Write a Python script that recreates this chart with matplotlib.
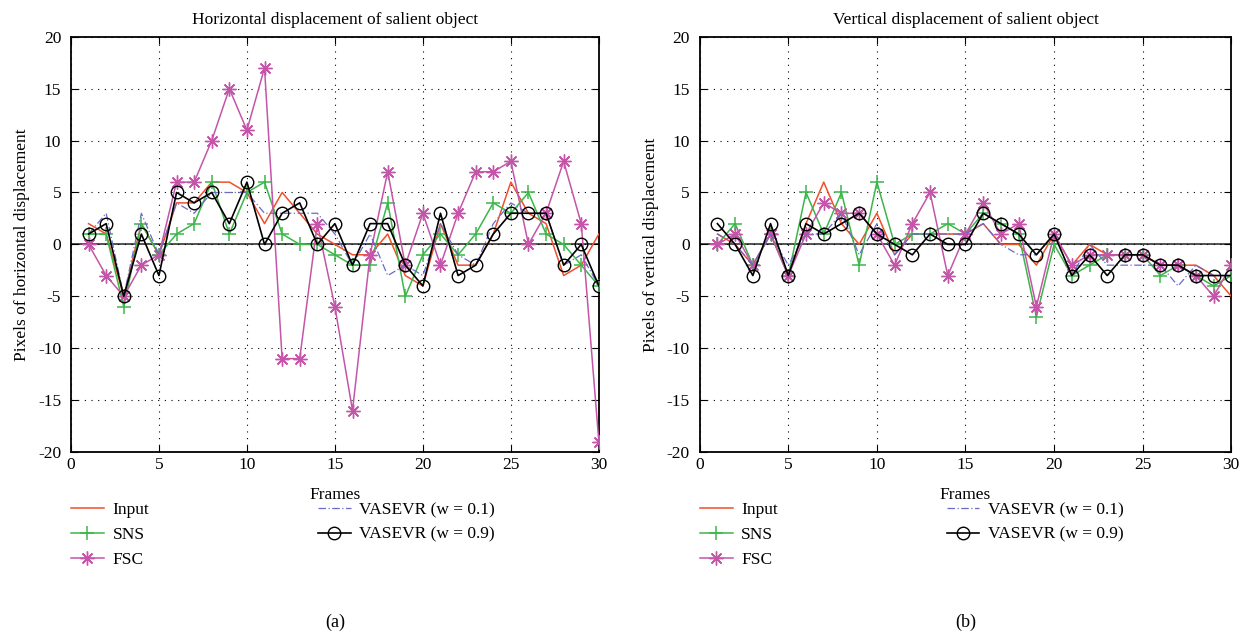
import matplotlib.pyplot as plt
import numpy as np

plt.rcParams["font.family"] = ["Liberation Serif", "DejaVu Serif"]
plt.rcParams["axes.unicode_minus"] = False

frames = np.arange(1, 31)

# (a) horizontal displacement
h_input = [2, 1, -5, 2, -1, 4, 4, 6, 6, 5, 2, 5, 3, 1, 0, -1, -1, 1, -3, -4,
           2, -2, -2, 1, 6, 3, 2, -3, -2, 1]
h_sns = [1, 1, -6, 2, -1, 1, 2, 6, 1, 5, 6, 1, 0, 0, -1, -2, -2, 4, -5, -1,
         1, -1, 1, 4, 3, 5, 1, 0, -2, -4]
h_fsc = [0, -3, -5, -2, -1, 6, 6, 10, 15, 11, 17, -11, -11, 2, -6, -16, -1, 7, -2, 3,
         -2, 3, 7, 7, 8, 0, 3, 8, 2, -19]
h_v01 = [1, 3, -5, 3, -1, 4, 3, 5, 5, 5, 3, 3, 3, 3, 1, -2, 1, -3, -2, -3,
         2, -1, -2, 2, 4, 3, 3, -2, -1, -4]
h_v09 = [1, 2, -5, 1, -3, 5, 4, 5, 2, 6, 0, 3, 4, 0, 2, -2, 2, 2, -2, -4,
         3, -3, -2, 1, 3, 3, 3, -2, 0, -4]

# (b) vertical displacement
v_input = [1, 0, -2, 1, -3, 2, 6, 2, 0, 3, -1, 1, 1, 1, 1, 2, 0, 0, -2, 1,
           -2, 0, -1, -1, -1, -2, -2, -2, -3, -5]
v_sns = [0, 2, -2, 1, -3, 5, 1, 5, -2, 6, 0, 1, 1, 2, 1, 3, 2, 1, -7, 0,
         -3, -2, -1, -1, -1, -3, -2, -3, -4, -3]
v_fsc = [0, 1, -2, 1, -3, 1, 4, 3, 3, 1, -2, 2, 5, -3, 1, 4, 1, 2, -6, 1,
         -2, -1, -1, -1, -1, -2, -2, -3, -5, -2]
v_v01 = [1, 0, -2, 1, -2, 1, 1, 3, -1, 2, -1, 1, 1, 1, 1, 2, 0, -1, -1, 1,
         -3, 0, -2, -2, -2, -2, -4, -2, -3, -3]
v_v09 = [2, 0, -3, 2, -3, 2, 1, 2, 3, 1, 0, -1, 1, 0, 0, 3, 2, 1, -1, 1,
         -3, -1, -3, -1, -1, -2, -2, -3, -3, -3]

labels = ["Input", "SNS", "FSC", "VASEVR (w = 0.1)", "VASEVR (w = 0.9)"]
titles = ["Horizontal displacement of salient object", "Vertical displacement of salient object"]
ylabels = ["Pixels of horizontal displacement", "Pixels of vertical displacement"]
panels = ["(a)", "(b)"]

c_red = "#f0502a"
c_green = "#3cb64a"
c_mag = "#c455a8"
c_blue = "#6a6ac8"

fig = plt.figure(figsize=(12.45, 6.34), dpi=100)
ax1 = fig.add_axes([0.057, 0.287, 0.424, 0.655])
ax2 = fig.add_axes([0.562, 0.287, 0.427, 0.655])

datasets = [(h_input, h_sns, h_fsc, h_v01, h_v09), (v_input, v_sns, v_fsc, v_v01, v_v09)]

for i, (ax, data) in enumerate(zip([ax1, ax2], datasets)):
    d_in, d_sns, d_fsc, d_v01, d_v09 = data
    ax.axhline(0, color="#333333", lw=1.2, zorder=1)
    ax.plot(frames, d_in, color=c_red, lw=1.1, label=labels[0], zorder=3)
    ax.plot(frames, d_sns, color=c_green, lw=1.1, marker="+", ms=10, mew=1.1,
            label=labels[1], zorder=3)
    ax.plot(frames, d_fsc, color=c_mag, lw=1.1, marker=(8, 2, 0), ms=10, mew=1.0,
            label=labels[2], zorder=3)
    ax.plot(frames, d_v01, color=c_blue, lw=0.9, ls=(0, (6, 2, 1, 2)),
            label=labels[3], zorder=3)
    ax.plot(frames, d_v09, color="black", lw=1.2, marker="o", ms=9, mfc="none",
            mew=1.0, label=labels[4], zorder=4)

    ax.set_xlim(0, 30)
    ax.set_ylim(-20, 20)
    ax.set_xticks(range(0, 31, 5))
    ax.set_yticks(range(-20, 21, 5))
    ax.grid(True, color="black", ls=(0, (1, 5)), lw=0.8)
    ax.tick_params(direction="in", top=True, right=True, labelsize=12.5, length=5)
    ax.tick_params(axis="y", pad=7)
    for s in ax.spines.values():
        s.set_linewidth(1.3)
    ax.set_title(titles[i], fontsize=12.5, pad=9)
    ax.set_xlabel("Frames", fontsize=12.5, labelpad=10)
    ax.set_ylabel(ylabels[i], fontsize=12.5, labelpad=6)

    handles, labs = ax.get_legend_handles_labels()
    ax.legend(handles, labs, ncol=2, loc="upper left", bbox_to_anchor=(0.0, -0.12),
              frameon=False, fontsize=12.5, handlelength=1.9, columnspacing=9.7,
              labelspacing=0.5, handletextpad=0.5, borderaxespad=0, borderpad=0)
    ax.text(0.5, -0.41, panels[i], transform=ax.transAxes, ha="center",
            va="center", fontsize=13)

plt.savefig("out.png", dpi=100)
